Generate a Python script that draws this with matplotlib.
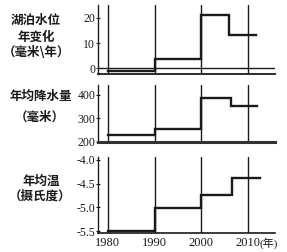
import matplotlib.pyplot as plt
import matplotlib.transforms as mtransforms

plt.rcParams['axes.unicode_minus'] = False

# step edges (years) and values for each panel
years_level = [1980, 1990, 2000, 2006, 2011.7]
level = [-1.0, 3.6, 21.2, 13.3]

years_rain = [1980, 1990, 2000, 2006.4, 2012]
rain = [230, 255, 386, 353]

years_temp = [1980, 1990, 2000, 2006.5, 2012.5]
temp = [-5.5, -5.02, -4.75, -4.38]

decades = [1980, 1990, 2000, 2010]
decade_labels = ['1980', '1990', '2000', '2010']

level_ticks = [0, 10, 20]
rain_ticks = [200, 300, 400]
temp_ticks = [-5.5, -5.0, -4.5, -4.0]
temp_tick_labels = ['-5.5', '-5.0', '-4.5', '-4.0']

ink = '#1a1a1a'
serif = 'Liberation Serif'
cjk = 'Noto Sans CJK SC'

fig = plt.figure(figsize=(2.87, 2.52), dpi=100)
left, width = 98 / 287, 177 / 287
ax1 = fig.add_axes([left, 1 - 74 / 252, width, 69 / 252])
ax2 = fig.add_axes([left, 1 - 142 / 252, width, 57 / 252])
ax3 = fig.add_axes([left, 1 - 233 / 252, width, 76 / 252])


def stepline(ax, edges, vals):
    xs, ys = [], []
    for i, v in enumerate(vals):
        xs += [edges[i], edges[i + 1]]
        ys += [v, v]
    ax.plot(xs, ys, color=ink, lw=1.7, solid_joinstyle='miter')


for ax in (ax1, ax2, ax3):
    ax.set_xlim(1977.9, 2015.8)
    for s in ('top', 'right'):
        ax.spines[s].set_visible(False)
    ax.spines['left'].set_color(ink)
    ax.spines['left'].set_linewidth(1.0)
    ax.spines['bottom'].set_color(ink)
    for d in decades:
        ax.axvline(d, color=ink, lw=1.0)
    ax.tick_params(axis='y', direction='inout', length=3, width=0.8,
                   pad=0.5, labelsize=8.5, colors=ink)
    ax.tick_params(axis='x', length=0)
    ax.set_xticks(decades)

# panel 1: lake level
ax1.set_ylim(-2.4, 25.2)
stepline(ax1, years_level, level)
ax1.axhline(0, color=ink, lw=1.0)
ax1.spines['bottom'].set_linewidth(1.3)
ax1.set_yticks(level_ticks)
ax1.set_xticklabels([])

# panel 2: precipitation
ax2.set_ylim(200, 442)
stepline(ax2, years_rain, rain)
ax2.spines['bottom'].set_linewidth(2.2)
ax2.spines['bottom'].set_color('#333333')
ax2.set_yticks(rain_ticks)
ax2.set_xticklabels([])

# panel 3: temperature
ax3.set_ylim(-5.54, -3.94)
stepline(ax3, years_temp, temp)
ax3.spines['bottom'].set_linewidth(1.2)
ax3.set_yticks(temp_ticks)
ax3.set_yticklabels(temp_tick_labels)
ax3.set_xticks(decades)
ax3.set_xticklabels(decade_labels, family=serif, fontsize=9, color=ink)
ax3.tick_params(axis='x', pad=3)
trans = mtransforms.blended_transform_factory(ax3.transData, ax3.transAxes)
ax3.annotate('(年)', xy=(2010, 0), xycoords=trans, xytext=(8.3, -3.2),
             textcoords='offset points', ha='left', va='top', fontsize=8,
             family=[serif, cjk], color=ink)

for ax in (ax1, ax2, ax3):
    for t in ax.get_yticklabels():
        t.set_family(serif)
        t.set_fontsize(8.5)

# left-hand labels
lab = dict(ha='center', va='center', fontsize=9, fontweight='bold',
           family=cjk, color=ink)
fig.text(36 / 287, 1 - 20 / 252, '湖泊水位', **lab)
fig.text(36 / 287, 1 - 37 / 252, '年变化', **lab)
fig.text(36 / 287, 1 - 53 / 252, '（毫米\\年）', **lab)
fig.text(41 / 287, 1 - 96 / 252, '年均降水量', **lab)
fig.text(40 / 287, 1 - 117 / 252, '（毫米）', **lab)
fig.text(41 / 287, 1 - 181 / 252, '年均温', **lab)
fig.text(40 / 287, 1 - 196 / 252, '（摄氏度）', **lab)

fig.savefig('out.png', dpi=100)
